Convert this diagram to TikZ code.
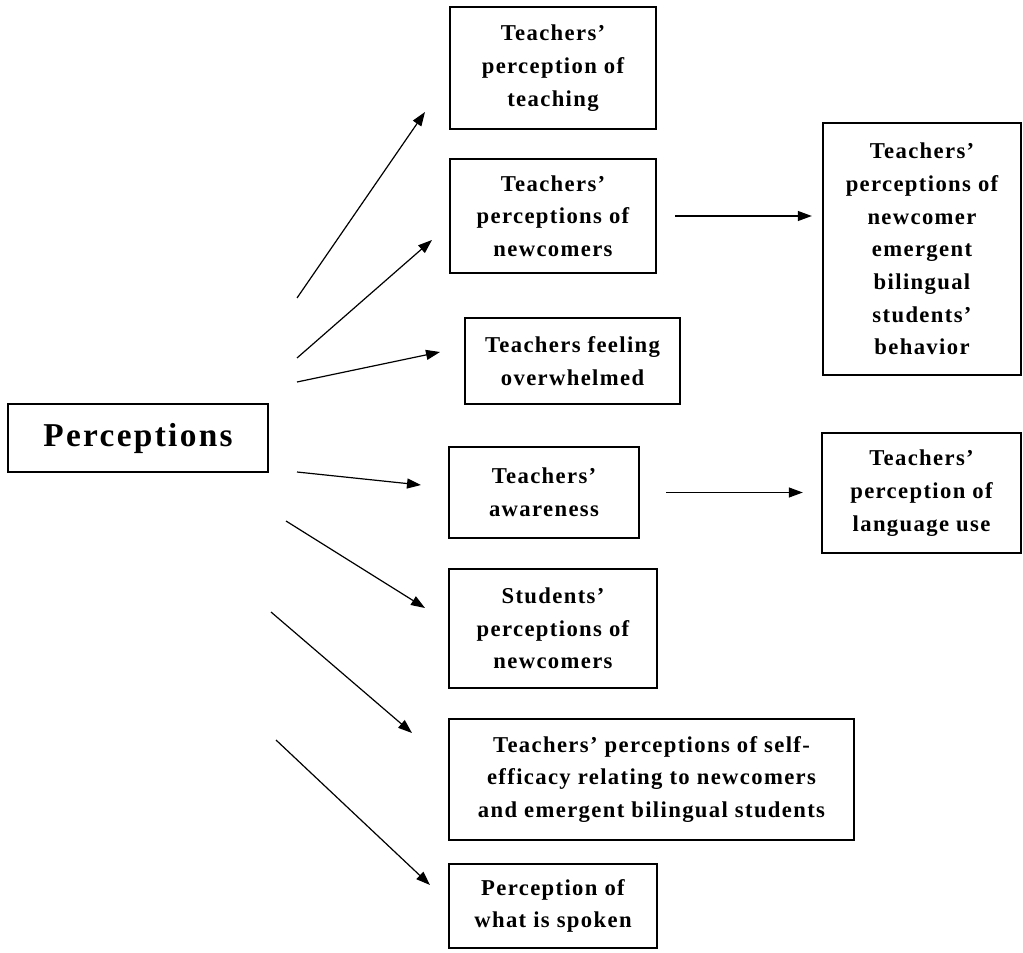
\documentclass[tikz,border=0pt]{standalone}
\usepackage{fontspec}
\setmainfont{Liberation Serif}
\newfontfamily\spacedserif[LetterSpace=6]{Liberation Serif}
\newfontfamily\widerserif[LetterSpace=7]{Liberation Serif}
\usetikzlibrary{arrows.meta}
\begin{document}
\begin{tikzpicture}[x=0.75pt,y=-0.75pt,
  box/.style={draw=black, line width=0.8pt, inner sep=0pt, align=center,
    font=\spacedserif\fontsize{17}{24.5}\selectfont\bfseries},
  arr/.style={-{Triangle[length=10.5pt,width=7.5pt]}, line width=0.9pt}]
\useasboundingbox (0,0) rectangle (1023,952);
% nodes
\node[box, minimum width=195pt, minimum height=51pt, font=\widerserif\fontsize{25}{30}\selectfont\bfseries] (perc) at (138,438) {Perceptions};
\node[box, minimum width=154.5pt, minimum height=91.5pt] (teach) at (553,68) {Teachers’\\perception of\\teaching};
\node[box, minimum width=154.5pt, minimum height=85.5pt] (newc) at (553,216) {Teachers’\\perceptions of\\newcomers};
\node[box, minimum width=148.5pt, minimum height=189pt] (behav) at (922,249) {Teachers’\\perceptions of\\newcomer\\emergent\\bilingual\\students’\\behavior};
\node[box, minimum width=161.25pt, minimum height=64.5pt] (over) at (572.5,361) {Teachers feeling\\overwhelmed};
\node[box, minimum width=142.5pt, minimum height=68.25pt] (aware) at (544,492.5) {Teachers’\\awareness};
\node[box, minimum width=149.25pt, minimum height=90pt] (lang) at (921.5,493) {Teachers’\\perception of\\language use};
\node[box, minimum width=156pt, minimum height=89.25pt] (stud) at (553,628.5) {Students’\\perceptions of\\newcomers};
\node[box, minimum width=303.75pt, minimum height=90.75pt] (self) at (651.5,779.5) {Teachers’ perceptions of self-\\efficacy relating to newcomers\\and emergent bilingual students};
\node[box, minimum width=156pt, minimum height=63pt] (spoken) at (553,906) {Perception of\\what is spoken};
% free ends of the fan of arrows
\coordinate (s1) at (297,298); \coordinate (e1) at (425,112);
\coordinate (s2) at (297,358); \coordinate (e2) at (432,240);
\coordinate (s3) at (297,382); \coordinate (e3) at (440,352);
\coordinate (s4) at (297,472); \coordinate (e4) at (421,485);
\coordinate (s5) at (286,521); \coordinate (e5) at (425,608);
\coordinate (s6) at (271,612); \coordinate (e6) at (412,733);
\coordinate (s7) at (276,740); \coordinate (e7) at (430,885);
\foreach \i in {1,...,7} \draw[arr] (s\i) -- (e\i);
% horizontal arrows
\draw[arr, shorten <=14pt, shorten >=8pt] (newc.east) -- (newc.east -| behav.west);
\draw[arr, shorten <=20pt, shorten >=14pt] (aware.east) -- (aware.east -| lang.west);
\end{tikzpicture}
\end{document}
